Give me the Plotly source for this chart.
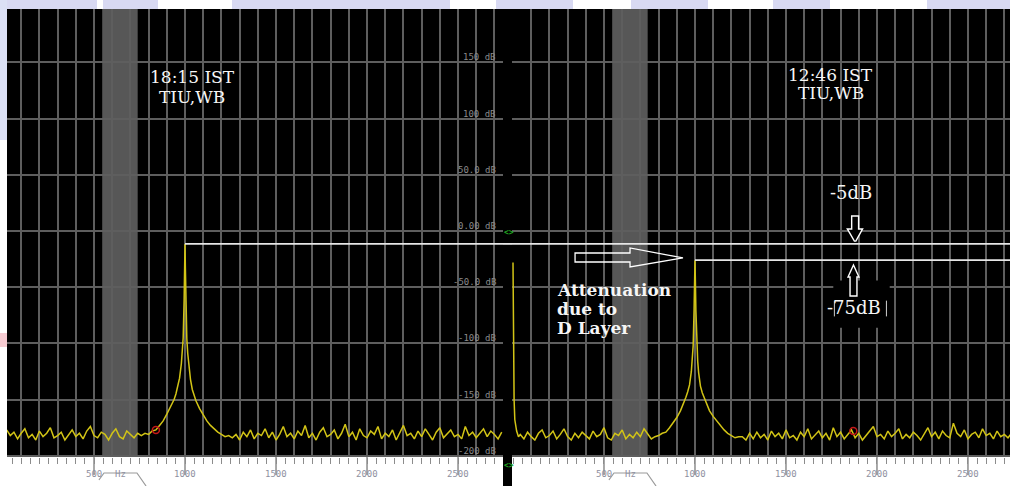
import plotly.graph_objects as go

W, H = 1010, 486

# ---------------- data ----------------
center_freq_hz = 1000

# left screen (18:15 IST)
left_floor_lo_hz = list(range(20, 741, 20))
left_floor_lo_db = [-177, -182, -179, -185, -180, -176, -184, -181, -186, -178,
                    -183, -180, -175, -184, -182, -179, -186, -181, -177, -183,
                    -180, -185, -178, -174, -182, -184, -179, -181, -186, -180,
                    -176, -183, -185, -178, -181, -184, -180]

peak_hz = [760, 780, 800, 820, 840, 860, 880, 900, 920, 940,
           950, 960, 970, 980, 985, 990, 995, 998, 1000, 1002,
           1005, 1010, 1015, 1020, 1030, 1040, 1050, 1060, 1080, 1100,
           1120, 1140, 1160, 1180, 1200, 1220, 1240]
left_peak_db = [-182, -180, -181, -178, -177, -173, -169, -163, -157, -150,
                -145, -139, -131, -118, -108, -95, -62, -32, -11.5, -33,
                -63, -96, -109, -119, -132, -141, -147, -151, -158, -164,
                -169, -173, -176, -179, -181, -183, -182]

floor_hi_hz = list(range(1260, 2741, 20))
left_floor_hi_db = [-184, -181, -186, -179, -183, -177, -185, -180, -182, -176,
                    -184, -179, -186, -181, -174, -183, -180, -185, -178, -182,
                    -173, -184, -180, -186, -179, -175, -183, -181, -177, -185,
                    -180, -172, -183, -179, -186, -176, -182, -184, -178, -181,
                    -174, -185, -180, -183, -177, -186, -179, -173, -182, -180,
                    -185, -178, -183, -176, -181, -186, -179, -175, -184, -180,
                    -177, -183, -181, -185, -174, -182, -179, -184, -180, -176,
                    -183, -178, -181, -185, -179]

# right screen (12:46 IST)
right_edge_hz = [0, 3, 6, 10, 15, 20, 30]
right_edge_db = [-28, -100, -150, -168, -175, -178, -183]
right_floor_lo_hz = list(range(40, 741, 20))
right_floor_lo_db = [-181, -185, -179, -183, -186, -180, -177, -184, -182, -178,
                     -185, -181, -176, -183, -186, -180, -184, -179, -182, -185,
                     -178, -183, -181, -175, -184, -186, -180, -182, -177, -185,
                     -181, -184, -179, -183, -176, -180]
right_peak_db = [-185, -183, -182, -180, -179, -175, -171, -166, -160, -153,
                 -148, -143, -137, -125, -115, -102, -70, -42, -26, -43,
                 -71, -103, -116, -126, -138, -144, -148, -152, -160, -165,
                 -169, -174, -177, -180, -182, -184, -183]
right_floor_hi_db = [-183, -186, -180, -185, -179, -184, -181, -186, -178, -183,
                     -180, -185, -177, -184, -182, -186, -179, -183, -176, -185,
                     -181, -178, -184, -180, -186, -175, -183, -179, -185, -181,
                     -177, -184, -180, -186, -182, -179, -174, -183, -181, -185,
                     -178, -183, -180, -176, -185, -181, -184, -179, -182, -186,
                     -180, -175, -183, -179, -185, -178, -182, -184, -171, -180,
                     -183, -177, -185, -181, -179, -184, -176, -182, -180, -185,
                     -178, -183, -181, -184, -180]

left_marker_hz, left_marker_db = [840], [-177]
right_marker_hz, right_marker_db = [1870], [-178]

db_tick_values = [150, 100, 50, 0, -50, -100, -150, -200]
db_tick_labels = ["150 dB", "100 dB", "50.0 dB", "0.00 dB", "-50.0 dB", "-100 dB", "-150 dB", "-200 dB"]
hz_major_values = [500, 1000, 1500, 2000, 2500]
hz_label_values = [1000, 1500, 2000, 2500]
hz_label_texts = ["1000", "1500", "2000", "2500"]

band_hz = [545, 740]  # greyed band

left_title = ["18:15 IST", "TIU,WB"]
right_title = ["12:46 IST", "TIU,WB"]
atten_text = ["Attenuation", "due to", "D Layer"]
upper_level_text = "-5dB"
lower_level_text = "-75dB"

# ---------------- geometry helpers ----------------
def px(p):
    return p / W

def py(p):
    return 1 - p / H

XL = [px(7), px(503)]
XR = [px(512), 1.0]
YD = [py(457), py(9)]
XL_RANGE = [22, 2747]
XR_RANGE = [-5.5, 2731]
Y_RANGE = [-201.1, 197.5]

GRID = "#5e5e5e"
TICK = "#8c8c8c"
TRACE = "#d2c416"
SERIF = "DejaVu Serif"
MONO = "DejaVu Sans Mono"

left_x = left_floor_lo_hz + peak_hz + floor_hi_hz
left_y = left_floor_lo_db + left_peak_db + left_floor_hi_db
right_x = right_edge_hz + right_floor_lo_hz + peak_hz + floor_hi_hz
right_y = right_edge_db + right_floor_lo_db + right_peak_db + right_floor_hi_db

fig = go.Figure()
for xs, ys, xa in [(left_x, left_y, "x"), (right_x, right_y, "x2")]:
    fig.add_trace(go.Scatter(x=xs, y=ys, xaxis=xa, yaxis="y", mode="lines",
                             line=dict(color=TRACE, width=1.5), hoverinfo="skip"))
for mx, my, xa in [(left_marker_hz, left_marker_db, "x"), (right_marker_hz, right_marker_db, "x2")]:
    fig.add_trace(go.Scatter(x=mx, y=my, xaxis=xa, yaxis="y", mode="markers",
                             marker=dict(symbol="circle-open", size=7, color="#c41818",
                                         line=dict(width=1.5, color="#c41818")),
                             hoverinfo="skip"))
# red centre-frequency diamonds in the scale strip
for xa in ["x", "x2"]:
    fig.add_trace(go.Scatter(x=[center_freq_hz], y=[-213], xaxis=xa, yaxis="y", mode="markers",
                             cliponaxis=False,
                             marker=dict(symbol="diamond-wide", size=15, color="#e01010",
                                         line=dict(width=1, color="#5a0000")),
                             hoverinfo="skip"))
    fig.add_trace(go.Scatter(x=[center_freq_hz], y=[-213], xaxis=xa, yaxis="y", mode="markers",
                             cliponaxis=False,
                             marker=dict(symbol="circle", size=5, color="white",
                                         line=dict(width=0)),
                             hoverinfo="skip"))

shapes = []
annotations = []

# black separator column between the two screens
shapes.append(dict(type="rect", xref="paper", yref="paper", x0=XL[1], x1=XR[0], y0=0, y1=YD[1],
                   fillcolor="black", line=dict(width=0), layer="below"))
# light watermark bits around the border
for a, b in [(0, 97), (103, 158), (232, 450), (496, 573), (631, 708), (773, 830), (927, 1010)]:
    shapes.append(dict(type="rect", xref="paper", yref="paper", x0=px(a), x1=px(b), y0=py(9), y1=1,
                       fillcolor="#d8d9f2", line=dict(width=0), layer="below"))
shapes.append(dict(type="rect", xref="paper", yref="paper", x0=0, x1=px(7), y0=py(140), y1=py(0),
                   fillcolor="#dbe0f5", line=dict(width=0), layer="below"))
shapes.append(dict(type="rect", xref="paper", yref="paper", x0=0, x1=px(7), y0=py(347), y1=py(333),
                   fillcolor="#f6ccd2", line=dict(width=0), layer="below"))

for xa, rng in [("x", XL_RANGE), ("x2", XR_RANGE)]:
    # grey band
    shapes.append(dict(type="rect", xref=xa, yref="y", x0=band_hz[0], x1=band_hz[1],
                       y0=Y_RANGE[0], y1=Y_RANGE[1], fillcolor="#575757",
                       line=dict(width=0), layer="below"))
    # long ticks at 500 Hz multiples
    for v in hz_major_values:
        shapes.append(dict(type="line", xref=xa, yref="paper", x0=v, x1=v, y0=py(457), y1=py(475),
                           line=dict(color=TICK, width=1.5)))
    # "500 Hz" tab outline
    shapes.append(dict(type="path", xref=xa, yref="paper",
                       path=f"M 527,{py(480)} L 555,{py(473)} L 736,{py(473)} L 786,{py(486)}",
                       line=dict(color="#9a9a9a", width=1.2)))
    annotations.append(dict(xref=xa, yref="paper", x=500, y=py(481), text="500",
                            showarrow=False, font=dict(family=MONO, size=9, color="#8f90a0")))
    annotations.append(dict(xref=xa, yref="paper", x=648, y=py(481), text="Hz",
                            showarrow=False, font=dict(family=MONO, size=9, color="#8f90a0")))
    for v, t in zip(hz_label_values, hz_label_texts):
        annotations.append(dict(xref=xa, yref="paper", x=v, y=py(481), text=t,
                                showarrow=False, font=dict(family=MONO, size=9, color="#8f90a0")))
    # dB scale labels inside the screen
    lx = 2722 if xa == "x" else 2736
    for v, t in zip(db_tick_values, db_tick_labels):
        annotations.append(dict(xref=xa, yref="y", x=lx, y=v, text=t, xanchor="right",
                                yanchor="middle", yshift=5, showarrow=False,
                                font=dict(family=MONO, size=9, color="#8a8a8a")))

left_top = max(left_peak_db)
right_top = max(right_peak_db)
# reference level lines
shapes.append(dict(type="line", xref="x", yref="y", x0=center_freq_hz, x1=XL_RANGE[1],
                   y0=left_top, y1=left_top, line=dict(color="#e6e6e6", width=1.8)))
shapes.append(dict(type="line", xref="paper", yref="y", x0=XL[1], x1=XR[0],
                   y0=left_top, y1=left_top, line=dict(color="#e6e6e6", width=1.8)))
shapes.append(dict(type="line", xref="x2", yref="y", x0=XR_RANGE[0], x1=XR_RANGE[1],
                   y0=left_top, y1=left_top, line=dict(color="#e6e6e6", width=1.8)))
shapes.append(dict(type="line", xref="x2", yref="y", x0=center_freq_hz, x1=XR_RANGE[1],
                   y0=right_top, y1=right_top, line=dict(color="#e6e6e6", width=1.8)))

# hollow block arrow pointing at the right peak
shapes.append(dict(type="path", xref="x2", yref="y",
                   path="M 341,-19.6 L 643,-19.6 L 643,-15.1 L 934,-24 L 643,-32 L 643,-27.6 L 341,-27.6 Z",
                   line=dict(color="white", width=1.3)))
# black text box for -75dB
shapes.append(dict(type="rect", xref="x2", yref="y", x0=1760, x1=2070, y0=-86, y1=-44,
                   fillcolor="black", line=dict(width=0)))
for bx in [1766, 2052]:
    shapes.append(dict(type="line", xref="x2", yref="y", x0=bx, x1=bx, y0=-76, y1=-62,
                       line=dict(color="#cfcfcf", width=1)))
# down / up hollow arrows
shapes.append(dict(type="path", xref="x2", yref="y",
                   path="M 1861,13.3 L 1899,13.3 L 1899,1.8 L 1921,1.8 L 1884,-9 L 1876,-9 L 1837,1.8 L 1861,1.8 Z",
                   fillcolor="black", line=dict(color="white", width=1.4)))
shapes.append(dict(type="path", xref="x2", yref="y",
                   path="M 1871,-30.2 L 1901,-40.9 L 1890,-40.9 L 1890,-57.8 L 1852,-57.8 L 1852,-40.9 L 1841,-40.9 Z",
                   fillcolor="black", line=dict(color="white", width=1.4)))

# titles and notes
def text(xa, x, y, t, size=17, bold=False, anchor="center"):
    annotations.append(dict(xref=xa, yref="y", x=x, y=y, text=(f"<b>{t}</b>" if bold else t),
                            xanchor=anchor, yanchor="middle", showarrow=False,
                            font=dict(family=SERIF, size=size, color="#f6f6f6")))

text("x", 1040, 137, left_title[0])
text("x", 1040, 119.2, left_title[1])
text("x2", 1747, 138.8, right_title[0])
text("x2", 1747, 122.8, right_title[1])
for t, yv in zip(atten_text, [-52.5, -69.4, -86.3]):
    text("x2", 231, yv, t, size=17, bold=True, anchor="left")
text("x2", 1857, 33.8, upper_level_text, size=18)
text("x2", 1873, -68.5, lower_level_text, size=18)

# green marker glyphs
for yy in [232, 472]:
    annotations.append(dict(xref="paper", yref="paper", x=px(509), y=py(yy), text="<b>&lt;&gt;</b>",
                            showarrow=False, font=dict(family=MONO, size=8, color="#22aa22")))

xcommon = dict(showgrid=True, gridcolor=GRID, gridwidth=1.6, dtick=100, tick0=0,
               ticks="outside", ticklen=6, tickcolor=TICK, tickwidth=1.2,
               showticklabels=False, zeroline=False, showline=False, fixedrange=True,
               anchor="y",
               minor=dict(dtick=50, tick0=0, ticks="outside", ticklen=6, tickcolor=TICK,
                          tickwidth=1.2, showgrid=False))

fig.update_layout(
    width=W, height=H, autosize=False,
    margin=dict(l=0, r=0, t=0, b=0, pad=0),
    paper_bgcolor="white", plot_bgcolor="black",
    showlegend=False,
    xaxis=dict(domain=XL, range=XL_RANGE, **xcommon),
    xaxis2=dict(domain=XR, range=XR_RANGE, **xcommon),
    yaxis=dict(domain=YD, range=Y_RANGE, dtick=50, tick0=0, showgrid=True, gridcolor=GRID,
               gridwidth=1.6, showticklabels=False, zeroline=False, showline=False,
               ticks="", fixedrange=True, anchor="x"),
    shapes=shapes,
    annotations=annotations,
)

fig.write_html("out.html", include_plotlyjs=True, config={"displayModeBar": False},
               post_script="document.body.style.margin='0';document.body.style.overflow='hidden';")
